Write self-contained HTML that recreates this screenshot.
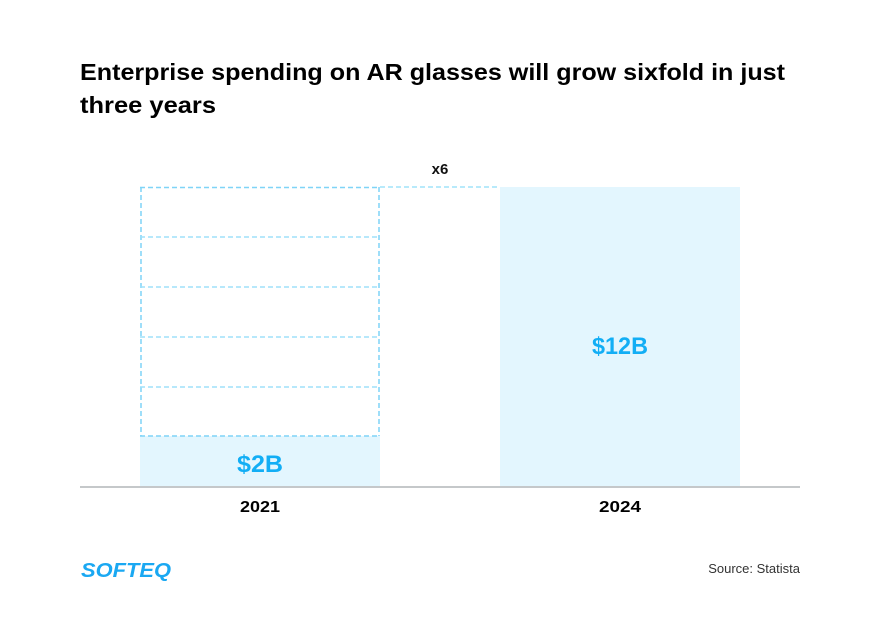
<!DOCTYPE html>
<html><head><meta charset="utf-8"><style>
html,body{margin:0;padding:0;background:#fff;}
svg{display:block;}
</style></head><body>
<svg width="880" height="626" viewBox="0 0 880 626" xmlns="http://www.w3.org/2000/svg" font-family="Liberation Sans, Arial, sans-serif">
<rect width="880" height="626" fill="#fff"/>
<text x="80" y="80" font-size="23" font-weight="bold" fill="#000" textLength="705" lengthAdjust="spacingAndGlyphs">Enterprise spending on AR glasses will grow sixfold in just</text>
<text x="80" y="113" font-size="23" font-weight="bold" fill="#000" textLength="136" lengthAdjust="spacingAndGlyphs">three years</text>

<text x="440" y="174" font-size="15" font-weight="bold" fill="#111" text-anchor="middle">x6</text>

<!-- 2024 bar -->
<rect x="500" y="187" width="240" height="300" fill="#e3f6fe"/>
<!-- 2021 bar -->
<rect x="140" y="436" width="240" height="51" fill="#e3f6fe"/>

<!-- dashed grid -->
<g fill="none" stroke-dasharray="5,3">
<line x1="141" y1="187" x2="141" y2="436" stroke="#7fd4f7" stroke-width="1.5"/>
<line x1="379" y1="187" x2="379" y2="436" stroke="#7fd4f7" stroke-width="1.5"/>
<line x1="140" y1="187.5" x2="380" y2="187.5" stroke="#7fd4f7" stroke-width="1.5"/>
<line x1="140" y1="237" x2="380" y2="237" stroke="#9fe0fa" stroke-width="1.5"/>
<line x1="140" y1="287" x2="380" y2="287" stroke="#9fe0fa" stroke-width="1.5"/>
<line x1="140" y1="337" x2="380" y2="337" stroke="#9fe0fa" stroke-width="1.5"/>
<line x1="140" y1="387" x2="380" y2="387" stroke="#9fe0fa" stroke-width="1.5"/>
<line x1="140" y1="436" x2="380" y2="436" stroke="#7fd4f7" stroke-width="1.5"/>
<line x1="380" y1="187" x2="500" y2="187" stroke="#b8eafb" stroke-width="2"/>
</g>

<!-- axis -->
<line x1="80" y1="487" x2="800" y2="487" stroke="#c5c8ca" stroke-width="2"/>

<text x="260" y="472" font-size="24" font-weight="bold" fill="#12aef5" text-anchor="middle" textLength="46" lengthAdjust="spacingAndGlyphs">$2B</text>
<text x="620" y="354" font-size="24" font-weight="bold" fill="#12aef5" text-anchor="middle" textLength="56" lengthAdjust="spacingAndGlyphs">$12B</text>

<text x="260" y="512" font-size="16" fill="#000" text-anchor="middle" font-weight="bold" textLength="40" lengthAdjust="spacingAndGlyphs">2021</text>
<text x="620" y="512" font-size="16" fill="#000" text-anchor="middle" font-weight="bold" textLength="42" lengthAdjust="spacingAndGlyphs">2024</text>

<text x="81" y="577" font-size="20" font-weight="bold" font-style="italic" fill="#1aa8f2" textLength="90" lengthAdjust="spacingAndGlyphs">SOFTEQ</text>

<text x="800" y="573" font-size="13" fill="#333" text-anchor="end">Source: Statista</text>
</svg>
</body></html>
